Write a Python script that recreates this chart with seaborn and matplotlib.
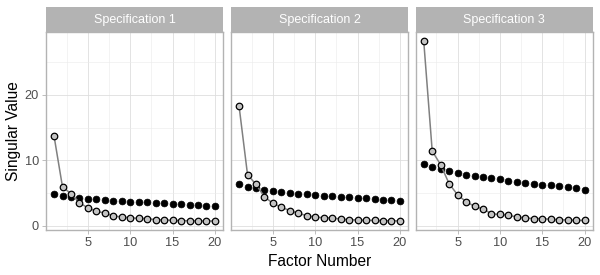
import numpy as np
import pandas as pd
import matplotlib
matplotlib.use("Agg")
import matplotlib.pyplot as plt
import seaborn as sns
from matplotlib.ticker import FixedLocator
from matplotlib.patches import Rectangle

factors = list(range(1, 21))
panels = ["Specification 1", "Specification 2", "Specification 3"]

# open circles (observed singular values)
obs1 = [13.7, 5.9, 4.9, 3.5, 2.7, 2.2, 1.9, 1.5, 1.3, 1.2, 1.1, 1.07, 0.9, 0.86, 0.8, 0.75, 0.75, 0.7, 0.7, 0.7]
obs2 = [18.3, 7.8, 6.3, 4.4, 3.4, 2.8, 2.3, 1.9, 1.5, 1.3, 1.2, 1.17, 1.0, 0.9, 0.86, 0.8, 0.8, 0.75, 0.75, 0.7]
obs3 = [28.2, 11.4, 9.3, 6.4, 4.7, 3.65, 2.95, 2.55, 1.8, 1.7, 1.6, 1.3, 1.17, 1.07, 1.07, 0.96, 0.9, 0.86, 0.8, 0.8]
# filled points (reference singular values)
ref1 = [4.8, 4.5, 4.3, 4.2, 4.1, 4.0, 3.9, 3.75, 3.7, 3.65, 3.6, 3.55, 3.45, 3.4, 3.35, 3.25, 3.2, 3.15, 3.05, 2.95]
ref2 = [6.3, 5.9, 5.7, 5.5, 5.3, 5.1, 5.0, 4.9, 4.8, 4.7, 4.6, 4.5, 4.4, 4.3, 4.2, 4.15, 4.05, 3.95, 3.85, 3.75]
ref3 = [9.5, 9.0, 8.6, 8.4, 8.1, 7.8, 7.6, 7.4, 7.3, 7.1, 6.85, 6.7, 6.55, 6.4, 6.25, 6.15, 6.05, 5.85, 5.7, 5.5]

obs_all = [obs1, obs2, obs3]
ref_all = [ref1, ref2, ref3]

sns.set_theme(style="white")
plt.rcParams['font.family'] = ['Liberation Sans', 'DejaVu Sans']

W, H = 600, 275
fig = plt.figure(figsize=(W / 100, H / 100), dpi=100)

lefts = [46, 231, 415.7]
pw = 177
bottom_px, top_px, strip_top = 230, 32.3, 7

allv = sum(obs_all, []) + sum(ref_all, [])
lo, hi = min(allv), max(allv)
rng = hi - lo
ylim = (lo - 0.05 * rng, hi + 0.05 * rng)

grid_c = '#DEDEDE'
border_c = '#B3B3B3'

for i, name in enumerate(panels):
    l = lefts[i]
    ax = fig.add_axes([l / W, 1 - bottom_px / H, pw / W, (bottom_px - top_px) / H])
    df_o = pd.DataFrame({"factor": factors, "value": obs_all[i]})
    df_r = pd.DataFrame({"factor": factors, "value": ref_all[i]})
    sns.scatterplot(data=df_r, x="factor", y="value", color="black", edgecolor="black",
                    linewidth=0.5, s=24, ax=ax, zorder=2)
    sns.lineplot(data=df_o, x="factor", y="value", color="#808080", lw=1.1, ax=ax, zorder=3)
    sns.scatterplot(data=df_o, x="factor", y="value", color="#C4C4C4", edgecolor="black",
                    linewidth=0.9, s=22, ax=ax, zorder=4)
    ax.set_xlim(0.05, 20.95)
    ax.set_ylim(*ylim)
    ax.xaxis.set_major_locator(FixedLocator([5, 10, 15, 20]))
    ax.xaxis.set_minor_locator(FixedLocator([2.5, 7.5, 12.5, 17.5]))
    ax.yaxis.set_major_locator(FixedLocator([0, 10, 20]))
    ax.yaxis.set_minor_locator(FixedLocator([5, 15, 25]))
    ax.grid(True, which='major', color=grid_c, lw=0.6, zorder=0)
    ax.grid(True, which='minor', color='#EBEBEB', lw=0.4, zorder=0)
    ax.set_axisbelow(True)
    for s in ax.spines.values():
        s.set_color(border_c)
        s.set_linewidth(1.0)
        s.set_visible(True)
    ax.tick_params(which='major', length=3, width=0.6, color=border_c,
                   labelcolor='#4D4D4D', labelsize=9.2, pad=2)
    ax.tick_params(which='minor', length=0)
    ax.tick_params(axis='both', which='both', bottom=True, left=(i == 0))
    ax.set_xlabel("")
    ax.set_ylabel("")
    if i != 0:
        ax.set_yticklabels([])
        ax.tick_params(axis='y', which='both', left=False)
    # strip
    fig.patches.append(Rectangle((l / W, 1 - top_px / H), pw / W, (top_px - strip_top) / H,
                                 transform=fig.transFigure, facecolor=border_c,
                                 edgecolor='none', zorder=1))
    fig.text((l + pw / 2) / W, 1 - (top_px + strip_top) / 2 / H, name, color='white',
             ha='center', va='center', fontsize=9)

fig.text((lefts[1] + pw / 2) / W, 1 - 261 / H, "Factor Number", ha='center', va='center',
         fontsize=11.2, color='black')
fig.text(14 / W, 1 - ((bottom_px + top_px) / 2) / H, "Singular Value", ha='center', va='center',
         rotation=90, fontsize=11.2, color='black')

fig.savefig("out.png", dpi=100)
